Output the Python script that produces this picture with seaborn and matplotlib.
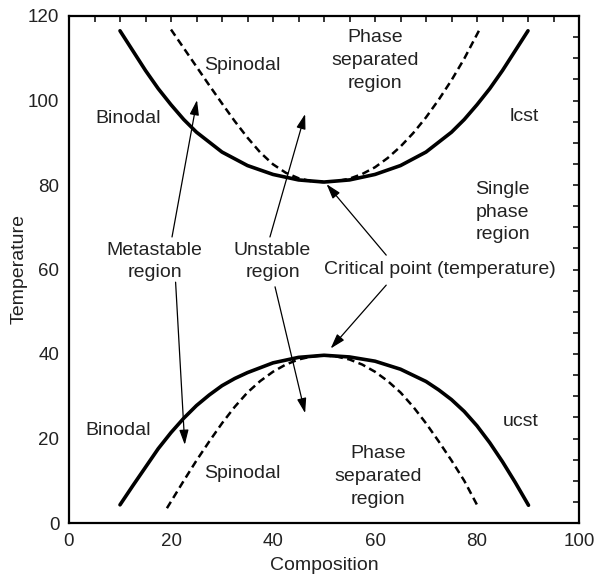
import matplotlib
matplotlib.use("Agg")
import matplotlib.pyplot as plt
import seaborn as sns
import pandas as pd

# ---- data ----
lcst_binodal_x = [10, 12.5, 15, 17.5, 20, 22.5, 25, 30, 35, 40, 45, 50,
                  55, 60, 65, 70, 75, 77.5, 80, 82.5, 85, 87.5, 90]
lcst_binodal_y = [116.5, 111.8, 107.1, 102.8, 99.0, 95.5, 92.5, 87.8, 84.6, 82.5, 81.2, 80.7,
                  81.2, 82.5, 84.6, 87.8, 92.5, 95.5, 99.0, 102.8, 107.1, 111.8, 116.5]

lcst_spinodal_x = [20, 22.5, 25, 27.5, 30, 32.5, 35, 37.5, 40, 42.5, 45, 47.5, 50,
                   52.5, 55, 57.5, 60, 62.5, 65, 67.5, 70, 72.5, 75, 77.5, 80.5]
lcst_spinodal_y = [116.8, 112.4, 108.0, 103.6, 99.3, 95.1, 91.2, 87.7, 84.9, 82.9, 81.6, 80.9, 80.7,
                   80.9, 81.5, 82.6, 84.2, 86.4, 89.1, 92.3, 96.0, 100.2, 104.8, 109.9, 116.8]

ucst_binodal_x = [10, 12.5, 15, 17.5, 20, 22.5, 25, 27.5, 30, 32.5, 35, 40, 45, 50,
                  55, 60, 65, 70, 72.5, 75, 77.5, 80, 82.5, 85, 87.5, 90.1]
ucst_binodal_y = [4.3, 8.8, 13.2, 17.6, 21.4, 24.8, 27.8, 30.3, 32.5, 34.2, 35.6, 37.9, 39.2, 39.7,
                  39.3, 38.3, 36.4, 33.5, 31.5, 29.2, 26.4, 23.0, 19.0, 14.5, 9.6, 4.2]

ucst_spinodal_x = [19.2, 22.5, 25, 27.5, 30, 32.5, 35, 37.5, 40, 42.5, 45, 47.5, 50,
                   52.5, 55, 57.5, 60, 62.5, 65, 67.5, 70, 72.5, 75, 77.5, 80]
ucst_spinodal_y = [3.5, 10.0, 14.8, 19.3, 23.6, 27.5, 30.9, 33.6, 35.8, 37.5, 38.7, 39.4, 39.7,
                   39.4, 38.7, 37.5, 35.8, 33.6, 30.9, 27.5, 23.6, 19.3, 14.8, 10.0, 4.3]

# text labels: (text, x, y, linespacing)
labels = [
    ("Spinodal", 33.9, 108.4, 1.45),
    ("Phase\nseparated\nregion", 60.0, 109.5, 1.45),
    ("Binodal", 11.5, 95.8, 1.45),
    ("lcst", 89.3, 96.3, 1.45),
    ("Single\nphase\nregion", 85.0, 73.6, 1.45),
    ("Metastable\nregion", 16.8, 61.8, 1.38),
    ("Unstable\nregion", 39.9, 61.8, 1.38),
    ("Critical point (temperature)", 72.7, 60.1, 1.45),
    ("Binodal", 9.6, 21.8, 1.45),
    ("Spinodal", 33.9, 11.8, 1.45),
    ("ucst", 88.6, 24.1, 1.45),
    ("Phase\nseparated\nregion", 60.6, 11.0, 1.45),
]

# arrows: (tail_x, tail_y, head_x, head_y)
arrows = [
    (20.2, 67.7, 25.1, 100.1),
    (20.9, 57.0, 22.7, 18.5),
    (39.4, 67.7, 46.3, 96.8),
    (40.4, 55.9, 46.3, 26.0),
    (62.2, 63.4, 50.5, 80.2),
    (62.2, 56.3, 51.3, 41.3),
]

x_ticks = [0, 20, 40, 60, 80, 100]
y_ticks = [0, 20, 40, 60, 80, 100, 120]

# ---- plotting ----
sns.set_style("white")
plt.rcParams["font.family"] = ["Liberation Sans", "DejaVu Sans"]

fig = plt.figure(figsize=(5.96, 5.78), dpi=100)
ax = fig.add_axes([69 / 596, 1 - 523 / 578, 510 / 596, 507 / 578])

curves = [
    (lcst_binodal_x, lcst_binodal_y, "-", 2.6),
    (lcst_spinodal_x, lcst_spinodal_y, (0, (3.0, 1.8)), 1.8),
    (ucst_binodal_x, ucst_binodal_y, "-", 2.6),
    (ucst_spinodal_x, ucst_spinodal_y, (0, (3.0, 1.8)), 1.8),
]
for cx, cy, ls, lw in curves:
    df = pd.DataFrame({"Composition": cx, "Temperature": cy})
    sns.lineplot(data=df, x="Composition", y="Temperature", ax=ax, sort=False,
                 estimator=None, color="black", linewidth=lw, linestyle=ls)

txt_color = "#222222"
for t, x, y, lsp in labels:
    ax.text(x, y, t, ha="center", va="center", fontsize=14, color=txt_color,
            linespacing=lsp)

for tx, ty, hx, hy in arrows:
    ax.annotate("", xy=(hx, hy), xytext=(tx, ty),
                arrowprops=dict(arrowstyle="-|>,head_length=0.45,head_width=0.14",
                                mutation_scale=20, lw=0.9, color="black",
                                shrinkA=0, shrinkB=0))

ax.set_xlim(0, 100)
ax.set_ylim(0, 120)
ax.set_xticks(x_ticks)
ax.set_yticks(y_ticks)
ax.set_xticks(range(0, 101, 5), minor=True)
ax.set_yticks(range(0, 121, 5), minor=True)
ax.tick_params(which="both", direction="in", top=True, right=True,
               length=4, width=1.1, color="black")
ax.tick_params(which="major", labelsize=13.5, labelcolor=txt_color, pad=7)
for s in ax.spines.values():
    s.set_linewidth(1.6)
    s.set_color("black")

ax.set_xlabel("Composition", fontsize=14, color=txt_color, labelpad=5.5)
ax.set_ylabel("Temperature", fontsize=14, color=txt_color, labelpad=0.5)

fig.savefig("out.png", dpi=100)
